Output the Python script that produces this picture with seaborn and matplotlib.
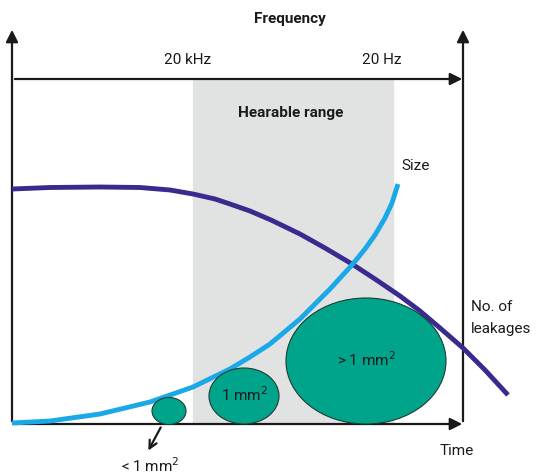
import numpy as np
import pandas as pd
import matplotlib.pyplot as plt
from matplotlib.patches import Ellipse, Rectangle
import seaborn as sns

# Diagram values (units: picture pixels, y grows downwards)
leak_x = [12, 50, 100, 140, 170, 193, 215, 230, 250, 271, 300, 325, 352, 375,
          400, 420, 440, 463, 485, 508]
leak_y = [190, 188.5, 188, 188.5, 191, 195, 200, 205, 212, 221, 235, 249, 265, 280,
          297, 312, 329, 349, 371, 396]

size_x = [12, 50, 100, 150, 193, 230, 250, 270, 300, 330, 352, 365, 375, 385,
          392, 398]
size_y = [424, 422, 415, 403, 388, 370, 358, 345, 320, 290, 266, 250, 236, 219,
          204, 185]

hole_labels = ["", "1 mm$^2$", "> 1 mm$^2$"]
hole_x = [169, 244, 366]
hole_y = [412, 397, 362]
hole_w = [34, 70, 160]
hole_h = [27, 56, 126]

freq_labels = ["20 kHz", "20 Hz"]
freq_x = [188, 382]
hearable = [193, 393]

sns.set_style("white")
plt.rcParams['font.family'] = ['Roboto', 'DejaVu Sans']

fig = plt.figure(figsize=(5.42, 4.77), dpi=100)
ax = fig.add_axes([0, 0, 1, 1])
ax.set_xlim(0, 542)
ax.set_ylim(477, 0)
ax.axis("off")

# hearable range band
ax.add_patch(Rectangle((hearable[0], 80), hearable[1] - hearable[0], 345,
                       color="#e1e3e3", zorder=0))

# axes arrows
arrow = dict(arrowstyle="-|>", color="#1a1a1a", lw=1.6, mutation_scale=18)
ax.annotate("", xy=(12, 28), xytext=(12, 425), arrowprops=arrow)
ax.annotate("", xy=(463, 28), xytext=(463, 425), arrowprops=arrow)
ax.annotate("", xy=(465, 80), xytext=(12, 80), arrowprops=arrow)
ax.annotate("", xy=(465, 425), xytext=(12, 425), arrowprops=arrow)

# curves
curves = pd.concat([
    pd.DataFrame({"x": leak_x, "y": leak_y, "curve": "leakages"}),
    pd.DataFrame({"x": size_x, "y": size_y, "curve": "size"}),
])
sns.lineplot(data=curves, x="x", y="y", hue="curve", sort=False, estimator=None,
             palette={"leakages": "#3b2a8e", "size": "#1aa9e6"}, lw=3.5,
             legend=False, ax=ax, zorder=3)
for line in ax.lines:
    line.set_solid_capstyle("butt")
    line.set_solid_joinstyle("round")

# leakage holes
for lab, x, y, w, h in zip(hole_labels, hole_x, hole_y, hole_w, hole_h):
    ax.add_patch(Ellipse((x, y), w, h, facecolor="#00a48a", edgecolor="#1e3b34",
                         lw=0.8, zorder=4))
    if lab:
        ax.text(x, y - 2, lab, ha="center", va="center", fontsize=11,
                color="#1a1a1a", zorder=5)

ax.annotate("", xy=(147, 454), xytext=(162, 426),
            arrowprops=dict(arrowstyle="->", color="#1a1a1a", lw=1.6,
                            mutation_scale=14), zorder=5)

# labels
ax.text(290, 19, "Frequency", ha="center", va="center", fontsize=11,
        fontweight="bold", color="#1a1a1a")
for lab, x in zip(freq_labels, freq_x):
    ax.text(x, 60, lab, ha="center", va="center", fontsize=11, color="#1a1a1a")
ax.text(291, 113, "Hearable range", ha="center", va="center", fontsize=11,
        fontweight="bold", color="#1a1a1a")
ax.text(416, 166, "Size", ha="center", va="center", fontsize=11, color="#1a1a1a")
ax.text(471, 318, "No. of\nleakages", ha="left", va="center", fontsize=11,
        color="#1a1a1a", linespacing=1.7)
ax.text(457, 451, "Time", ha="center", va="center", fontsize=11, color="#1a1a1a")
ax.text(150, 466, "< 1 mm$^2$", ha="center", va="center", fontsize=11,
        color="#1a1a1a")

fig.savefig("out.png", dpi=100, facecolor="white")
